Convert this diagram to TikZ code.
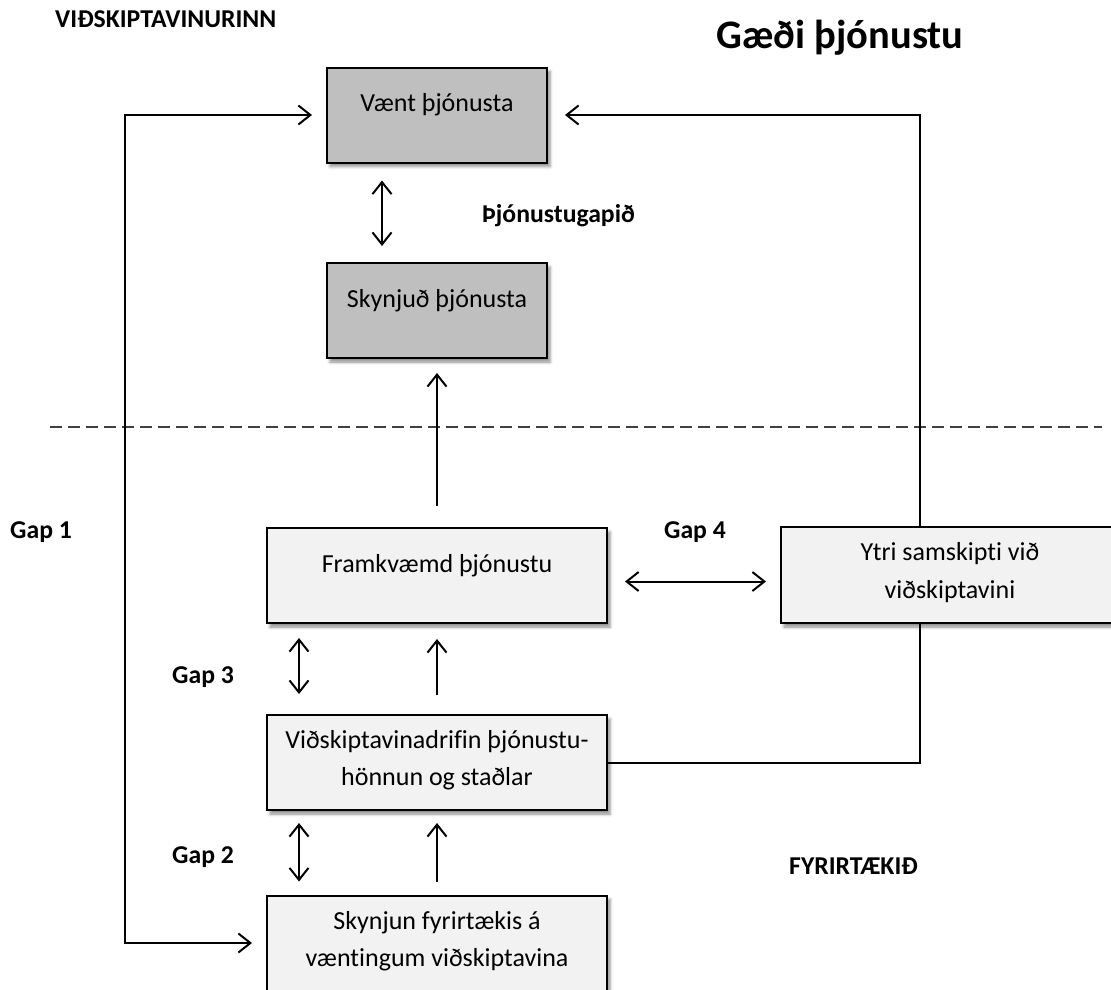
\documentclass[tikz,border=0pt]{standalone}
\usepackage{fontspec}
\setmainfont[Ligatures=NoCommon]{Carlito}
\usetikzlibrary{arrows.meta,shadows.blur}
\definecolor{boxgray}{HTML}{BFBFBF}
\definecolor{boxlight}{HTML}{F2F2F2}
\definecolor{dashgray}{HTML}{404040}
\begin{document}
\begin{tikzpicture}[x=1pt,y=-1pt,
  box/.style={draw=black, line width=2pt, rectangle, inner sep=0pt,
    minimum width=340pt, minimum height=95pt,
    blur shadow={shadow xshift=3pt, shadow yshift=-4pt, shadow blur radius=3pt, shadow opacity=45}},
  gbox/.style={box, fill=boxgray, minimum width=220pt},
  lbox/.style={box, fill=boxlight},
  txt/.style={anchor=base, inner sep=0pt, font=\fontsize{26}{37}\selectfont},
  lbl/.style={anchor=base west, inner sep=0pt, font=\fontsize{25.7}{30}\selectfont\bfseries},
  ttl/.style={anchor=base, inner sep=0pt, font=\fontsize{40.5}{46}\selectfont\bfseries},
  tip/.tip={Straight Barb[length=12pt,width=19pt]},
  con/.style={line width=2pt},
  arr/.style={con, -tip},
  darr/.style={con, tip-tip},
]
\useasboundingbox (0,0) rectangle (1111,989);
\clip (0,0) rectangle (1111,989);

% boxes
\node[gbox] (vaent) at (437,115) {};
\node[gbox] (skynj) at (437,310.5) {};
\node[lbox] (framk) at (437,575.5) {};
\node[lbox, minimum width=338pt, minimum height=96pt] (ytri) at (950,575) {};
\node[lbox] (vid) at (437,762.5) {};
\node[lbox] (botn) at (437,943) {};

% box texts
\node[txt] (vaentT) at (437,111) {Vænt þjónusta};
\node[txt] (skynjT) at (437,307) {Skynjuð þjónusta};
\node[txt] (framkT) at (437,572) {Framkvæmd þjónustu};
\node[txt] (ytriA) at (950,560) {Ytri samskipti við};
\node[txt] (ytriB) at (950,598) {viðskiptavini};
\node[txt] (vidA) at (437,748) {Viðskiptavinadrifin þjónustu-};
\node[txt] (vidB) at (437,785) {hönnun og staðlar};
\node[txt] (botnA) at (437,929) {Skynjun fyrirtækis á};
\node[txt] (botnB) at (437,966) {væntingum viðskiptavina};

% labels
\node[lbl] (vidsk) at (55,27) {VIÐSKIPTAVINURINN};
\node[ttl] (gaedi) at (840,48) {Gæði þjónustu};
\node[lbl] (gapid) at (482,222) {Þjónustugapið};
\node[lbl] (gap1) at (10,538) {Gap 1};
\node[lbl, anchor=base] (gap4) at (695,538) {Gap 4};
\node[lbl] (gap3) at (172,683) {Gap 3};
\node[lbl] (gap2) at (172,863) {Gap 2};
\node[lbl] (fyr) at (789,874) {FYRIRTÆKIÐ};

% dashed divider
\coordinate (D1) at (50,427);
\coordinate (D2) at (1102,427);
\draw[con, dashgray, dash pattern=on 12pt off 6pt] (D1) -- (D2);

% outer loops
\coordinate (L1) at (125,115);
\coordinate (L2) at (125,943);
\draw[darr, shorten <=14pt, shorten >=14pt] (vaent.west) -- (L1) -- (L2) -- (botn.west);
\coordinate (R1) at (920,115);
\draw[arr, shorten >=17pt] (ytri.north -| R1) -- (R1) -- (vaent.east);
\draw[con] (vid.east) -| (ytri.south -| R1);

% vertical arrows
\draw[darr, shorten <=17pt, shorten >=16pt] ([xshift=-55pt]vaent.south) -- ([xshift=-55pt]skynj.north);
\draw[arr, shorten <=21pt, shorten >=14pt] (framk.north) -- (skynj.south);
\draw[darr, shorten <=17pt, shorten >=14pt] ([yshift=-6pt]framk.east) -- ([yshift=-6pt]framk.east -| ytri.west);
\draw[darr, shorten <=14pt, shorten >=20pt] ([xshift=-138pt]framk.south) -- ([xshift=-138pt]vid.north);
\draw[arr, shorten <=19pt, shorten >=15pt] (vid.north) -- (framk.south);
\draw[darr, shorten <=12pt, shorten >=13pt] ([xshift=-138pt]vid.south) -- ([xshift=-138pt]botn.north);
\draw[arr, shorten <=13pt, shorten >=12pt] (botn.north) -- (vid.south);
\end{tikzpicture}
\end{document}
